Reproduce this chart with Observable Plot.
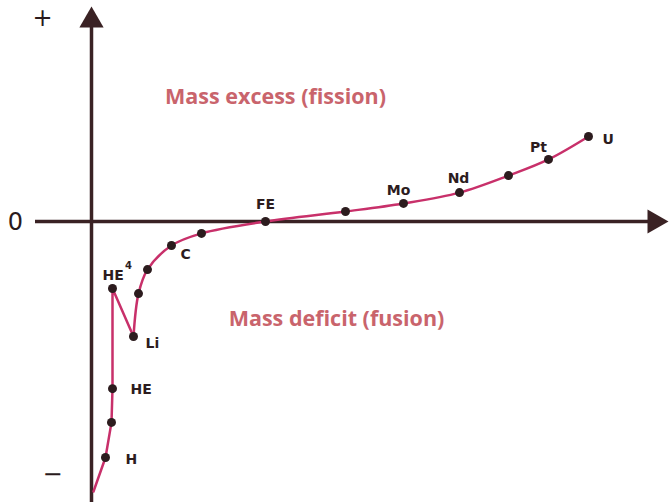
<!DOCTYPE html>
<html>
<head>
<meta charset="utf-8">
<script src="https://cdn.jsdelivr.net/npm/d3@7"></script>
<script src="https://cdn.jsdelivr.net/npm/@observablehq/plot@0.6"></script>
<style>
  html, body { margin: 0; padding: 0; background: #ffffff; }
  #chart svg { display: block; }
</style>
</head>
<body>
<div id="chart"></div>
<script>
// Schematic binding-energy curve: mass excess (+) / mass deficit (−) vs. nucleus
const xs = [0.4, 2.8, 4.0, 4.2, 4.2, 8.4, 9.4, 11.2, 16.0, 22.0, 34.8, 50.8, 62.4, 73.6, 83.4, 91.4, 99.4];
const ys = [-100, -87.4, -74.4, -61.9, -24.8, -42.6, -26.7, -17.8, -8.9, -4.4, 0, 3.7, 6.7, 10.7, 17.0, 23.0, 31.5];
const names = ["", "H", "", "HE", "HE", "Li", "", "", "C", "", "FE", "", "Mo", "Nd", "", "Pt", "U"];
const hasDot = [false, true, true, true, true, true, true, true, true, true, true, true, true, true, true, true, true];
const regionLabels = ["Mass excess (fission)", "Mass deficit (fusion)"];
const regionX = [36.8, 49.0];
const regionY = [45.9, -36.3];
const signLabels = ["+", "0", "−"];
const signX = [-9.8, -15.2, -7.8];
const signY = [75.2, -0.3, -93.7];

const points = xs.map((x, i) => ({x, y: ys[i], name: names[i], dot: hasDot[i], i}));
const lightPart = points.slice(0, 6);   // H … HE⁴ … Li (sharp corners)
const heavyPart = points.slice(5);      // Li … U (smooth)

// label placement (pixel offsets) by point index
const labelOffsets = {
  1: {dx: 20, dy: 2, anchor: "start"},
  3: {dx: 18, dy: 1, anchor: "start"},
  4: {dx: -10, dy: -13, anchor: "start"},
  5: {dx: 12, dy: 7, anchor: "start"},
  8: {dx: 9, dy: 9, anchor: "start"},
  10: {dx: 0, dy: -17, anchor: "middle"},
  12: {dx: -5, dy: -13, anchor: "middle"},
  13: {dx: -1, dy: -14, anchor: "middle"},
  15: {dx: -10, dy: -12, anchor: "middle"},
  16: {dx: 14, dy: 3, anchor: "start"}
};

const axisColor = "#3a2224";
const curveColor = "#c8306a";
const dotColor = "#2c1c1e";
const regionColor = "#c9646c";

const labelMarks = points.filter(d => d.name).map(d => {
  const o = labelOffsets[d.i];
  return Plot.text([d], {
    x: "x", y: "y", text: "name", dx: o.dx, dy: o.dy, textAnchor: o.anchor,
    fill: dotColor, fontSize: 14, fontWeight: "bold", fontFamily: "DejaVu Sans"
  });
});

const chart = Plot.plot({
  width: 670,
  height: 502,
  margin: 0,
  x: {domain: [-18.2, 115.8], axis: null},
  y: {domain: [-104.07, 81.85], axis: null},
  marks: [
    Plot.ruleY([0], {x1: -11.2, x2: 113, stroke: axisColor, strokeWidth: 3.5}),
    Plot.ruleX([0], {y1: -104.07, y2: 72, stroke: axisColor, strokeWidth: 3.5}),
    Plot.dot([{x: 112.6, y: 0}], {x: "x", y: "y", symbol: "triangle", rotate: 90, r: 9, fill: axisColor, stroke: "none"}),
    Plot.dot([{x: 0, y: 74.4}], {x: "x", y: "y", symbol: "triangle", r: 9, fill: axisColor, stroke: "none"}),
    Plot.line(lightPart, {x: "x", y: "y", curve: "linear", stroke: curveColor, strokeWidth: 2.5, strokeLinejoin: "round"}),
    Plot.line(heavyPart, {x: "x", y: "y", curve: "catmull-rom", stroke: curveColor, strokeWidth: 2.5}),
    Plot.dot(points.filter(d => d.dot), {x: "x", y: "y", r: 4.5, fill: dotColor, stroke: "none"}),
    ...labelMarks,
    Plot.text([points[4]], {x: "x", y: "y", text: () => "4", dx: 16, dy: -23, fill: dotColor, fontSize: 10, fontWeight: "bold", fontFamily: "DejaVu Sans"}),
    Plot.text(regionLabels, {x: (d, i) => regionX[i], y: (d, i) => regionY[i], text: d => d, fill: regionColor, fontSize: 21.5, fontWeight: "bold", fontFamily: "Open Sans"}),
    Plot.text(signLabels, {x: (d, i) => signX[i], y: (d, i) => signY[i], text: d => d, fill: "#2a1a1c", fontSize: 24, fontFamily: "DejaVu Sans"})
  ]
});

document.getElementById("chart").appendChild(chart);
</script>
</body>
</html>
